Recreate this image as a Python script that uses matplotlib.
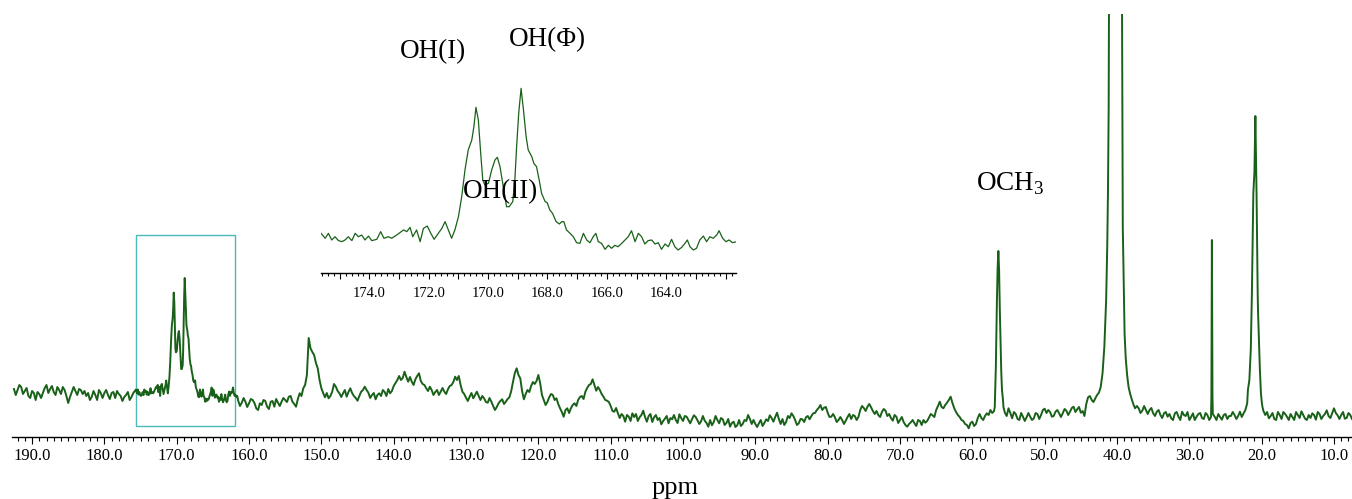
import matplotlib
matplotlib.use("Agg")
import matplotlib.pyplot as plt
import numpy as np
from matplotlib.ticker import MultipleLocator, FuncFormatter
from matplotlib.patches import Rectangle

plt.rcParams['font.family'] = 'Liberation Serif'
plt.rcParams['mathtext.fontset'] = 'custom'
plt.rcParams['mathtext.rm'] = 'Liberation Serif'

# 13C spectrum, intensity in arbitrary units

# left baseline, 192.5 -> 176.0 ppm every 0.5 ppm
left_ppm = np.arange(192.5, 175.9, -0.5)
left_int = [48, 47, 50, 46, 41, 46, 37, 43, 44, 52,
            48, 45, 50, 43, 47, 34, 45, 46, 48, 43,
            41, 37, 46, 37, 44, 44, 42, 44, 39, 43,
            36, 42, 37, 44]
# in-between points of the left baseline, 192.25 -> 176.25 ppm
left_mid_ppm = np.arange(192.25, 176.2, -0.5)
left_mid_int = [42, 52, 43, 49, 39, 44, 45, 39, 49, 44,
                51, 42, 47, 50, 41, 40, 50, 42, 47, 46,
                44, 40, 42, 47, 39, 47, 38, 45, 46, 41,
                40, 45, 40]

# carbonyl region (also drawn in the inset)
co_ppm = [175.63, 175.49, 175.38, 175.27, 175.16, 175.04, 174.93, 174.82, 174.71, 174.59,
          174.48, 174.37, 174.26, 174.15, 174.03, 173.92, 173.75, 173.62, 173.51, 173.36,
          173.25, 173.08, 172.85, 172.74, 172.63, 172.54, 172.41, 172.29, 172.18, 172.05,
          171.93, 171.82, 171.68, 171.56, 171.45, 171.34, 171.23, 171.12, 171.00, 170.89,
          170.78, 170.67, 170.55, 170.48, 170.41, 170.33, 170.25, 170.18, 170.11, 169.99,
          169.88, 169.77, 169.69, 169.60, 169.49, 169.38, 169.29, 169.17, 169.10, 169.04,
          168.97, 168.89, 168.81, 168.72, 168.65, 168.53, 168.46, 168.37, 168.28, 168.20,
          168.08, 168.01, 167.92, 167.83, 167.71, 167.60, 167.52, 167.45, 167.36, 167.24,
          167.13, 167.02, 166.91, 166.79, 166.68, 166.57, 166.46, 166.37, 166.29, 166.18,
          166.06, 165.95, 165.84, 165.73, 165.62, 165.50, 165.39, 165.28, 165.17, 165.05,
          164.94, 164.83, 164.72, 164.61, 164.49, 164.38, 164.27, 164.16, 164.04, 163.93,
          163.82, 163.71, 163.60, 163.48, 163.37, 163.29, 163.20, 163.09, 162.98, 162.87,
          162.75, 162.64, 162.53, 162.42, 162.30, 162.22, 162.10, 161.99, 161.88, 161.77,
          161.63]
co_int = [47.5, 43.7, 47.5, 42.4, 44.9, 41.9, 41.1, 42.4, 44.9, 41.9,
          47.5, 44.9, 46.2, 42.4, 45.4, 41.9, 42.9, 48.8, 43.7, 44.9,
          43.7, 46.2, 50.1, 48.8, 52.1, 44.9, 50.1, 41.1, 51.3, 53.1,
          47.5, 42.9, 47.5, 51.3, 56.5, 50.1, 43.7, 50.1, 60.3, 75.7,
          96.2, 111.6, 119.3, 129.5, 144.4, 134.7, 109.0, 88.5, 84.7, 86.0,
          96.2, 103.9, 106.0, 98.8, 83.4, 68.0, 68.0, 71.9, 88.5, 114.2,
          139.8, 159.0, 142.4, 121.9, 111.6, 106.5, 101.3, 98.8, 88.5, 78.3,
          71.9, 71.1, 65.4, 62.9, 56.5, 54.7, 56.5, 56.5, 50.1, 47.5,
          44.9, 40.3, 39.8, 47.5, 42.4, 40.3, 44.9, 47.5, 41.1, 39.8,
          35.2, 38.3, 36.0, 38.3, 37.2, 39.8, 42.4, 44.9, 49.5, 41.1,
          47.5, 44.9, 39.3, 41.9, 42.4, 39.3, 40.3, 35.2, 39.3, 37.2,
          42.9, 37.2, 34.7, 36.7, 39.8, 42.4, 37.2, 34.7, 36.0, 42.4,
          45.4, 41.1, 44.9, 43.7, 46.2, 49.5, 43.7, 41.1, 42.4, 40.3,
          41.1]

# right part, 161.5 -> 7.5 ppm every 0.5 ppm
right_ppm = np.arange(161.5, 7.4, -0.5)
right_int = [36.3, 34.3, 35.3, 33.7, 37, 28.7, 33.7, 37, 30.3, 35.3,       # 161.5-157.0
             30.3, 34.3, 35.3, 37, 40.3, 35.3, 30.3, 43.7, 48.7, 62,       # 156.5-152.0
             88.7, 82, 68.7, 48.7, 39.7, 38.7, 45.3, 50.3, 43.7, 43.7,     # 151.5-147.0
             40.3, 48.7, 41, 36.3, 45.3, 50.3, 44.3, 42, 37.7, 43.7,       # 146.5-142.0
             47, 41, 43.7, 51, 57, 57, 65.3, 55.3, 55.3, 57.7,             # 141.5-137.0
             63.7, 53, 48.7, 50.3, 42, 47, 45.3, 45.3, 47.7, 52,           # 136.5-132.0
             60.3, 61, 45.3, 39.3, 40.3, 38.7, 45.3, 37, 38.7, 34.3,       # 131.5-127.0
             35.3, 27, 33.7, 37.7, 35.3, 39.7, 55.3, 68.7, 58.7, 37.7,     # 126.5-122.0
             47, 51, 53, 62, 42, 32, 39.7, 42, 38.7, 28.7,                 # 121.5-117.0
             20.3, 28.7, 28.7, 33.7, 37, 41, 45.3, 52, 57.7, 46.3,         # 116.5-112.0
             47, 40.3, 36.3, 31, 25.3, 23.7, 23, 15.3, 20.3, 23.7,         # 111.5-107.0
             23, 19.7, 26.3, 15.3, 23, 19.7, 17, 12.7, 18.3, 13.7,         # 106.5-102.0
             17.7, 17, 22.7, 16, 20.3, 13.7, 21.7, 16.7, 15.7, 16.3,       # 101.5-97.0
             10.3, 11.7, 21, 13.7, 17.7, 14, 10.3, 15.3, 11.7, 11,         # 96.5-92.0
             17, 22, 13, 13, 13.7, 11, 17.7, 21.7, 15.3, 24.3,             # 91.5-87.0
             13, 12, 21, 23.7, 17, 13.7, 17.7, 19.7, 17.7, 23.7,           # 86.5-82.0
             27, 32, 29.3, 24.3, 20.3, 19.7, 17, 17, 16.3, 23,             # 81.5-77.0
             22, 17, 27, 29, 30.3, 29.7, 23, 22, 25, 26.3,                 # 76.5-72.0
             23, 16.3, 20.3, 17, 15, 10.3, 14.7, 13.7, 17, 12,             # 71.5-67.0
             14.3, 19.3, 21.7, 27, 35.3, 28.7, 34.3, 40.3, 28.7, 22,       # 66.5-62.0
             17, 13, 8.7, 15.3, 13, 23, 17, 23.7, 27, 26,                  # 61.5-57.0
             170, 65, 24.3, 28.7, 18.7, 23, 17, 20.3, 19.7, 20.3,          # 56.5-52.0
             18.7, 23, 22, 28.3, 27, 20.3, 25.3, 23.7, 23.7, 26.3,         # 51.5-47.0
             25.3, 30.3, 27.7, 24.3, 21, 39.7, 37, 38.7, 44.3, 63.7,       # 46.5-42.0
             137, 600, 1200, 1200, 700, 122, 56, 38.7, 28.7, 28.7,         # 41.5-37.0
             26.3, 27, 27, 23.7, 25.3, 22, 23.7, 20.3, 18.7, 23.7,         # 36.5-32.0
             20.3, 25.3, 21, 17, 23.7, 20.3, 24, 18, 22, 20,               # 31.5-27.0
             20.3, 23, 17.3, 23, 21, 25, 18, 25.3, 23.7, 33.7,             # 26.5-22.0
             88, 265, 125, 36, 22, 18.7, 24, 17, 22, 25,                   # 21.5-17.0
             20.3, 23, 17, 22, 25.7, 18.3, 22, 23.7, 17.3, 23,             # 16.5-12.0
             21, 26.7, 19, 28.7, 21.7, 22, 18.3, 24, 18]                   # 11.5-7.5

# in-between points of the right part, 161.25 -> 7.75 ppm
right_mid_ppm = np.arange(161.25, 7.7, -0.5)
right_mid_int = [31, 39, 30, 38, 34, 27, 32, 36, 28, 36,       # 161.25-156.75
                 38, 31, 39, 35, 41, 33, 38, 41, 52, 99,       # 156.25-151.75
                 85, 74, 57, 44, 44, 41, 53, 46, 40, 47,       # 151.25-146.75
                 45, 44, 39, 41, 47, 47, 39, 44, 42, 41,       # 146.25-141.75
                 45, 48, 46, 54, 61, 59, 60, 60, 52, 61,       # 141.25-136.75
                 56, 52, 46, 47, 45, 42, 49, 43, 51, 55,       # 136.25-131.75
                 57, 52, 43, 36, 44, 42, 41, 41, 35, 39,       # 131.25-126.75
                 31, 30, 36, 33, 38, 46, 64, 62, 46, 43,       # 126.25-121.75
                 45, 55, 56, 54, 37, 35, 43, 37, 33, 25,       # 121.25-116.75
                 27, 24, 32, 31, 40, 38, 49, 53, 52, 50,       # 116.25-111.75
                 43, 37, 35, 26, 29, 19, 21, 22, 16, 20,       # 111.25-106.75
                 16, 22, 20, 21, 15, 22, 19, 16, 21, 19,       # 106.25-101.75
                 22, 14, 19, 21, 17, 18, 20, 13, 21, 14,       # 101.25-96.75
                 17, 15, 17, 19, 12, 18, 14, 10, 17, 13,       # 96.25-91.75
                 16, 18, 17, 10, 17, 14, 16, 19, 20, 18,       # 91.25-86.75
                 18, 15, 19, 21, 12, 18, 15, 21, 21, 24,       # 86.25-81.75
                 29, 27, 30, 20, 23, 15, 20, 13, 20, 18,       # 81.25-76.75
                 21, 20, 31, 26, 33, 26, 26, 20, 28, 21,       # 76.25-71.75
                 19, 22, 14, 20, 12, 13, 17, 11, 16, 17,       # 71.25-66.75
                 16, 23, 20, 31, 30, 32, 37, 34, 25, 20,       # 66.25-61.75
                 16, 12, 14, 11, 19, 19, 21, 22, 24, 70,       # 61.25-56.75
                 147, 36, 21, 24, 25, 18, 24, 16, 24, 17,      # 56.25-51.75
                 24, 18, 27, 24, 25, 21, 27, 20, 28, 22,       # 51.25-46.75
                 29, 25, 30, 26, 33, 41, 35, 42, 50, 90,       # 46.25-41.75
                 244, 900, 1200, 900, 310, 75, 45, 33, 31, 24, # 41.25-36.75
                 31, 23, 29, 21, 27, 19, 25, 23, 17, 25,       # 36.25-31.75
                 17, 22, 25, 20, 17, 23, 19, 24, 17, 23,       # 31.25-26.75
                 17, 20, 22, 18, 21, 22, 21, 20, 27, 54,       # 26.25-21.75
                 195, 265, 68, 26, 25, 21, 18, 25, 18, 23,     # 21.25-16.75
                 17, 20, 25, 19, 22, 17, 19, 22, 25, 18,       # 16.25-11.75
                 23, 21, 24, 24, 18, 25, 19, 22]               # 11.25-7.75

# extra points on the narrow / tall peaks
peak_ppm = [56.9, 56.6, 56.4, 56.3, 56.2, 56.05, 55.9, 55.7,
            41.35, 41.15, 41.1,
            39.4, 39.3, 39.2, 39.05, 38.95, 38.8, 38.6, 38.4, 38.2,
            26.95, 26.88, 26.8,
            21.9, 21.7, 21.35, 21.15, 20.87, 20.7, 20.55, 20.3, 20.1, 19.9]
peak_int = [30, 137, 186, 167, 127, 77, 47, 30,
            190, 330, 450,
            500, 420, 210, 144, 103, 80, 62, 50, 43.7,
            40, 197, 40,
            47, 57, 143.7, 243.7, 321, 240, 143.7, 77, 43.7, 30.3]

ppm = np.concatenate([left_ppm, left_mid_ppm, co_ppm, right_ppm, right_mid_ppm, peak_ppm])
inten = np.concatenate([left_int, left_mid_int, co_int, right_int, right_mid_int, peak_int])
order = np.argsort(-ppm)
ppm = ppm[order]
inten = inten[order]

line_color = '#196119'
box_color = '#4cb9b9'

fig = plt.figure(figsize=(13.52, 4.99), dpi=100)

# main spectrum
ax = fig.add_axes([12/1352, 62/499, 1340/1352, 423/499])
ax.plot(ppm, inten, color=line_color, lw=1.4)
ax.set_xlim(192.77, 7.51)
ax.set_ylim(0, 423)
for s in ['left', 'right', 'top']:
    ax.spines[s].set_visible(False)
ax.spines['bottom'].set_linewidth(1.0)
ax.set_yticks([])
ax.xaxis.set_major_locator(MultipleLocator(10))
ax.xaxis.set_minor_locator(MultipleLocator(1))
ax.xaxis.set_major_formatter(FuncFormatter(lambda v, p: '%.1f' % v))
ax.tick_params(axis='x', which='major', length=4.8, width=0.8, labelsize=12, pad=3)
ax.tick_params(axis='x', which='minor', length=3.0, width=0.8)

# box around the zoomed region
ax.add_patch(Rectangle((161.9, 11), 13.7, 191, fill=False, ec=box_color, lw=1.0))

# inset
axi = fig.add_axes([321/1352, 226/499, 415/1352, 213/499])
axi.patch.set_visible(False)
axi.plot(co_ppm, co_int, color=line_color, lw=0.9)
axi.set_xlim(175.63, 161.65)
axi.set_ylim(17, 180.8)
for s in ['left', 'right', 'top']:
    axi.spines[s].set_visible(False)
axi.spines['bottom'].set_linewidth(1.0)
axi.set_yticks([])
axi.xaxis.set_major_locator(MultipleLocator(1))
axi.xaxis.set_minor_locator(MultipleLocator(0.2))
axi.xaxis.set_major_formatter(FuncFormatter(
    lambda v, p: '%.1f' % v if (round(v) % 2 == 0 and v > 163) else ''))
axi.tick_params(axis='x', which='major', length=4.3, width=0.8, labelsize=10.5, pad=6)
axi.tick_params(axis='x', which='minor', length=2.5, width=0.8)

# labels
fig.text(433/1352, 1 - 52/499, 'OH(I)', fontsize=19.5, ha='center', va='center')
fig.text(547/1352, 1 - 40/499, 'OH(Φ)', fontsize=19.5, ha='center', va='center')
fig.text(501/1352, 1 - 192/499, 'OH(II)', fontsize=19.5, ha='center', va='center')
fig.text(1010/1352, 1 - 184/499, r'OCH$_{3}$', fontsize=19.5, ha='center', va='center')
fig.text(675/1352, 1 - 488/499, 'ppm', fontsize=19, ha='center', va='center')

plt.savefig('out.png', dpi=100)
